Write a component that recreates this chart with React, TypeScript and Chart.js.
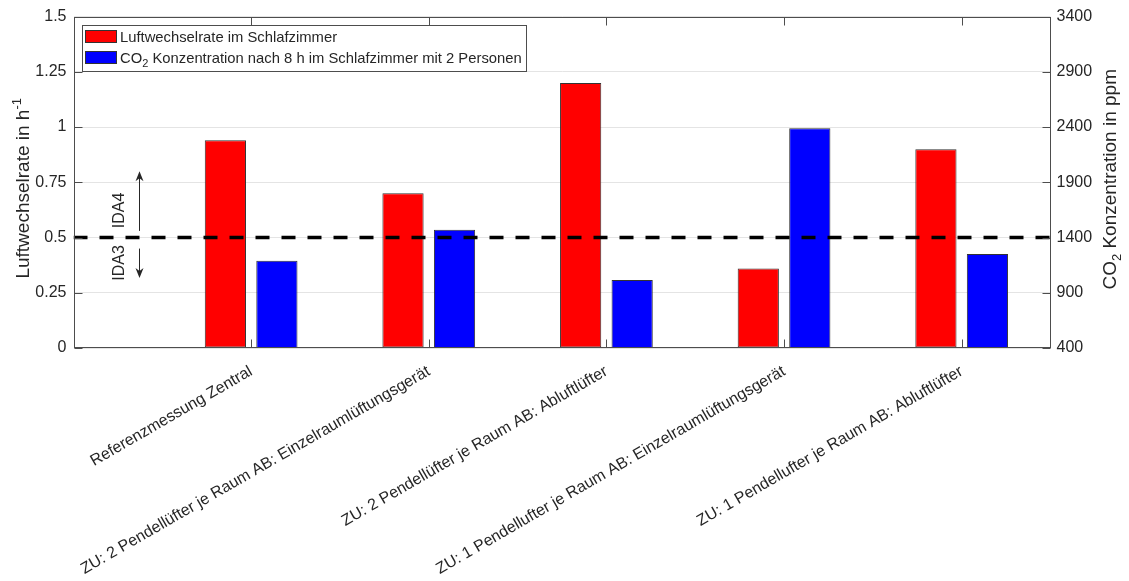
import { useEffect, useRef } from "react";
import { Chart, registerables } from "chart.js";

Chart.register(...registerables);

// ---- data -------------------------------------------------------------
const categories = [
  "Referenzmessung Zentral",
  "ZU: 2 Pendellüfter je Raum AB: Einzelraumlüftungsgerät",
  "ZU: 2 Pendellüfter je Raum AB: Abluftlüfter",
  "ZU: 1 Pendellufter je Raum AB: Einzelraumlüftungsgerät",
  "ZU: 1 Pendellufter je Raum AB: Abluftlüfter",
];
const categoryPositions = [1, 2, 3, 4, 5];
const xRange = [0, 5.5];

// air change rate in the bedroom, h^-1 (left axis)
const airChangeRate = [0.94, 0.7, 1.2, 0.36, 0.9];
// CO2 concentration after 8 h, bedroom with 2 persons, ppm (right axis)
const co2Concentration = [1190, 1470, 1015, 2390, 1250];

// IDA3 / IDA4 boundary (left axis units)
const idaBoundary = 0.5;

const leftTicks = [0, 0.25, 0.5, 0.75, 1, 1.25, 1.5];
const leftTickLabels = ["0", "0.25", "0.5", "0.75", "1", "1.25", "1.5"];
const rightTicks = [400, 900, 1400, 1900, 2400, 2900, 3400];
const rightTickLabels = ["400", "900", "1400", "1900", "2400", "2900", "3400"];

// IDA arrows: x position and [start, tip] on left axis
const idaArrowX = 0.37;
const ida4Arrow = [0.53, 0.8];
const ida3Arrow = [0.45, 0.317];
const idaTextX = 0.252;
const ida4TextY = 0.623;
const ida3TextY = 0.385;

const legendRed = "Luftwechselrate im Schlafzimmer";
const legendBlue = { base: "CO", sub: "2", rest: " Konzentration nach 8 h im Schlafzimmer mit 2 Personen" };

// ---- styling ----------------------------------------------------------
const FONT = '"Liberation Sans", Arial, Helvetica, sans-serif';
const TEXT = "#262626";
const AXIS = "#4d4d4d";
const GRID = "#e4e4e4";
const RED = "#ff0000";
const BLUE = "#0000ff";
const BAR_EDGE = "#333333";
const TICK_LEN = 8;
const TICK_FONT = 16;
const LEGEND_FONT = 14.8;
const TITLE_FONT = 19;

type Run = { text: string; size: number; dy: number };

function runsWidth(ctx: CanvasRenderingContext2D, runs: Run[]) {
  let w = 0;
  for (const r of runs) {
    ctx.font = `${r.size}px ${FONT}`;
    w += ctx.measureText(r.text).width;
  }
  return w;
}

function drawRuns(ctx: CanvasRenderingContext2D, runs: Run[], x: number, y: number) {
  let cx = x;
  for (const r of runs) {
    ctx.font = `${r.size}px ${FONT}`;
    ctx.fillText(r.text, cx, y + r.dy);
    cx += ctx.measureText(r.text).width;
  }
}

// text rotated 90° counter-clockwise, centred on cy along the run
function drawVerticalRuns(ctx: CanvasRenderingContext2D, runs: Run[], baselineX: number, cy: number) {
  const w = runsWidth(ctx, runs);
  ctx.save();
  ctx.translate(baselineX, cy);
  ctx.rotate(-Math.PI / 2);
  ctx.textAlign = "left";
  ctx.textBaseline = "alphabetic";
  drawRuns(ctx, runs, -w / 2, 0);
  ctx.restore();
}

function drawArrow(ctx: CanvasRenderingContext2D, x: number, y0: number, y1: number) {
  const dir = y1 < y0 ? -1 : 1;
  const headLen = 10;
  const headHalf = 4;
  ctx.beginPath();
  ctx.moveTo(x, y0);
  ctx.lineTo(x, y1 - dir * 6);
  ctx.stroke();
  ctx.beginPath();
  ctx.moveTo(x, y1);
  ctx.lineTo(x - headHalf, y1 - dir * headLen);
  ctx.lineTo(x, y1 - dir * 7);
  ctx.lineTo(x + headHalf, y1 - dir * headLen);
  ctx.closePath();
  ctx.fill();
}

const overlayPlugin = {
  id: "overlay",
  afterDatasetsDraw(chart: any) {
    const { ctx, chartArea: a, scales } = chart;
    const sx = scales.x;
    const sy = scales.y;
    const sy1 = scales.y1;
    const L = Math.round(a.left) + 0.5;
    const R = Math.round(a.right) - 0.5;
    const T = Math.round(a.top) + 0.5;
    const B = Math.round(a.bottom) - 0.5;

    ctx.save();
    ctx.strokeStyle = AXIS;
    ctx.lineWidth = 1;

    // inward tick marks
    ctx.beginPath();
    for (const v of leftTicks) {
      const py = Math.round(sy.getPixelForValue(v)) + 0.5;
      ctx.moveTo(L, py);
      ctx.lineTo(L + TICK_LEN, py);
    }
    for (const v of rightTicks) {
      const py = Math.round(sy1.getPixelForValue(v)) + 0.5;
      ctx.moveTo(R, py);
      ctx.lineTo(R - TICK_LEN, py);
    }
    for (const v of categoryPositions) {
      const px = Math.round(sx.getPixelForValue(v)) + 0.5;
      ctx.moveTo(px, T);
      ctx.lineTo(px, T + TICK_LEN);
      ctx.moveTo(px, B);
      ctx.lineTo(px, B - TICK_LEN);
    }
    ctx.stroke();

    // axes box
    ctx.strokeRect(L, T, R - L, B - T);

    // IDA arrows and labels
    ctx.strokeStyle = TEXT;
    ctx.fillStyle = TEXT;
    const ax = Math.round(sx.getPixelForValue(idaArrowX)) + 0.5;
    drawArrow(ctx, ax, sy.getPixelForValue(ida4Arrow[0]), sy.getPixelForValue(ida4Arrow[1]));
    drawArrow(ctx, ax, sy.getPixelForValue(ida3Arrow[0]), sy.getPixelForValue(ida3Arrow[1]));

    const tx = sx.getPixelForValue(idaTextX);
    for (const [label, yv] of [["IDA4", ida4TextY], ["IDA3", ida3TextY]] as [string, number][]) {
      ctx.save();
      ctx.translate(tx, sy.getPixelForValue(yv));
      ctx.rotate(-Math.PI / 2);
      ctx.font = `16px ${FONT}`;
      ctx.textAlign = "center";
      ctx.textBaseline = "middle";
      ctx.fillText(label, 0, 1);
      ctx.restore();
    }

    // legend
    const lx = a.left + 8.5;
    const ly = a.top + 8.5;
    const rowH = 21.3;
    const redRuns: Run[] = [{ text: legendRed, size: LEGEND_FONT, dy: 0 }];
    const blueRuns: Run[] = [
      { text: legendBlue.base, size: LEGEND_FONT, dy: 0 },
      { text: legendBlue.sub, size: 11, dy: 4 },
      { text: legendBlue.rest, size: LEGEND_FONT, dy: 0 },
    ];
    const textX = lx + 38;
    const textW = Math.max(runsWidth(ctx, redRuns), runsWidth(ctx, blueRuns));
    const boxW = Math.round(textX + textW + 4 - lx);
    const boxH = 46;
    ctx.fillStyle = "#ffffff";
    ctx.fillRect(Math.round(lx), Math.round(ly), boxW, boxH);
    ctx.strokeStyle = AXIS;
    ctx.strokeRect(Math.round(lx) + 0.5, Math.round(ly) + 0.5, boxW, boxH);

    const rows: [string, Run[]][] = [
      [RED, redRuns],
      [BLUE, blueRuns],
    ];
    rows.forEach(([color, runs], i) => {
      const cy = ly + 11.5 + i * rowH;
      ctx.fillStyle = color;
      ctx.fillRect(Math.round(lx + 3), Math.round(cy - 6.5), 32, 13);
      ctx.strokeStyle = BAR_EDGE;
      ctx.strokeRect(Math.round(lx + 3) + 0.5, Math.round(cy - 6.5) + 0.5, 31, 12);
      ctx.fillStyle = TEXT;
      ctx.textAlign = "left";
      ctx.textBaseline = "alphabetic";
      drawRuns(ctx, runs, textX, cy + 5.5);
    });

    ctx.restore();
  },
  afterDraw(chart: any) {
    const { ctx, chartArea: a } = chart;
    const cy = (a.top + a.bottom) / 2;
    ctx.save();
    ctx.fillStyle = TEXT;
    drawVerticalRuns(
      ctx,
      [
        { text: "Luftwechselrate in h", size: TITLE_FONT, dy: 0 },
        { text: "-1", size: 13, dy: -8 },
      ],
      28.5,
      cy + 6
    );
    drawVerticalRuns(
      ctx,
      [
        { text: "CO", size: TITLE_FONT, dy: 0 },
        { text: "2", size: 13, dy: 5 },
        { text: " Konzentration in ppm", size: TITLE_FONT, dy: 0 },
      ],
      1116,
      cy - 3
    );
    ctx.restore();
  },
};

export default function App() {
  const canvasRef = useRef<HTMLCanvasElement | null>(null);

  useEffect(() => {
    const canvas = canvasRef.current;
    if (!canvas) return;

    const chart = new Chart(canvas, {
      type: "bar",
      data: {
        datasets: [
          {
            type: "line",
            label: "IDA3/IDA4",
            data: [
              { x: xRange[0], y: idaBoundary },
              { x: xRange[1], y: idaBoundary },
            ],
            borderColor: "#000000",
            borderWidth: 3.5,
            borderDash: [14, 12],
            pointRadius: 0,
            yAxisID: "y",
            order: 0,
          } as any,
          {
            type: "bar",
            label: legendRed,
            data: categoryPositions.map((x, i) => ({ x, y: airChangeRate[i] })),
            backgroundColor: RED,
            borderColor: BAR_EDGE,
            borderWidth: 1,
            borderSkipped: false,
            yAxisID: "y",
            order: 1,
          },
          {
            type: "bar",
            label: "CO2 Konzentration",
            data: categoryPositions.map((x, i) => ({ x, y: co2Concentration[i] })),
            backgroundColor: BLUE,
            borderColor: BAR_EDGE,
            borderWidth: 1,
            borderSkipped: false,
            yAxisID: "y1",
            order: 1,
          },
        ],
      },
      options: {
        responsive: false,
        animation: false,
        devicePixelRatio: 1,
        layout: { padding: { top: 14, left: 0, right: 0, bottom: 0 } },
        plugins: { legend: { display: false }, tooltip: { enabled: false } },
        datasets: { bar: { categoryPercentage: 0.58, barPercentage: 0.8 } },
        scales: {
          x: {
            type: "linear",
            min: xRange[0],
            max: xRange[1],
            offset: false,
            grid: { display: false, drawTicks: false, offset: false },
            border: { display: false },
            afterBuildTicks: (s: any) => {
              s.ticks = categoryPositions.map((v) => ({ value: v }));
            },
            afterFit: (s: any) => {
              s.height = 233;
            },
            ticks: {
              autoSkip: false,
              minRotation: 30,
              maxRotation: 30,
              padding: 14,
              color: TEXT,
              font: { family: FONT, size: TICK_FONT },
              callback: (_v: any, i: number) => categories[i],
            },
          },
          y: {
            type: "linear",
            position: "left",
            min: 0,
            max: 1.5,
            afterBuildTicks: (s: any) => {
              s.ticks = leftTicks.map((v) => ({ value: v }));
            },
            afterFit: (s: any) => {
              s.width = 73.5;
            },
            grid: { color: GRID, lineWidth: 1, drawTicks: false },
            border: { display: false },
            ticks: {
              padding: 7,
              color: TEXT,
              font: { family: FONT, size: TICK_FONT },
              callback: (_v: any, i: number) => leftTickLabels[i],
            },
          },
          y1: {
            type: "linear",
            position: "right",
            min: 400,
            max: 3400,
            afterBuildTicks: (s: any) => {
              s.ticks = rightTicks.map((v) => ({ value: v }));
            },
            afterFit: (s: any) => {
              s.width = 78.5;
            },
            grid: { drawOnChartArea: false, drawTicks: false },
            border: { display: false },
            ticks: {
              padding: 6,
              color: TEXT,
              font: { family: FONT, size: TICK_FONT },
              callback: (_v: any, i: number) => rightTickLabels[i],
            },
          },
        },
      } as any,
      plugins: [overlayPlugin],
    });

    return () => chart.destroy();
  }, []);

  return (
    <div style={{ position: "fixed", left: 0, top: 0, width: 1129, height: 581, background: "#ffffff" }}>
      <canvas ref={canvasRef} width={1129} height={581} style={{ display: "block", width: 1129, height: 581 }} />
    </div>
  );
}
